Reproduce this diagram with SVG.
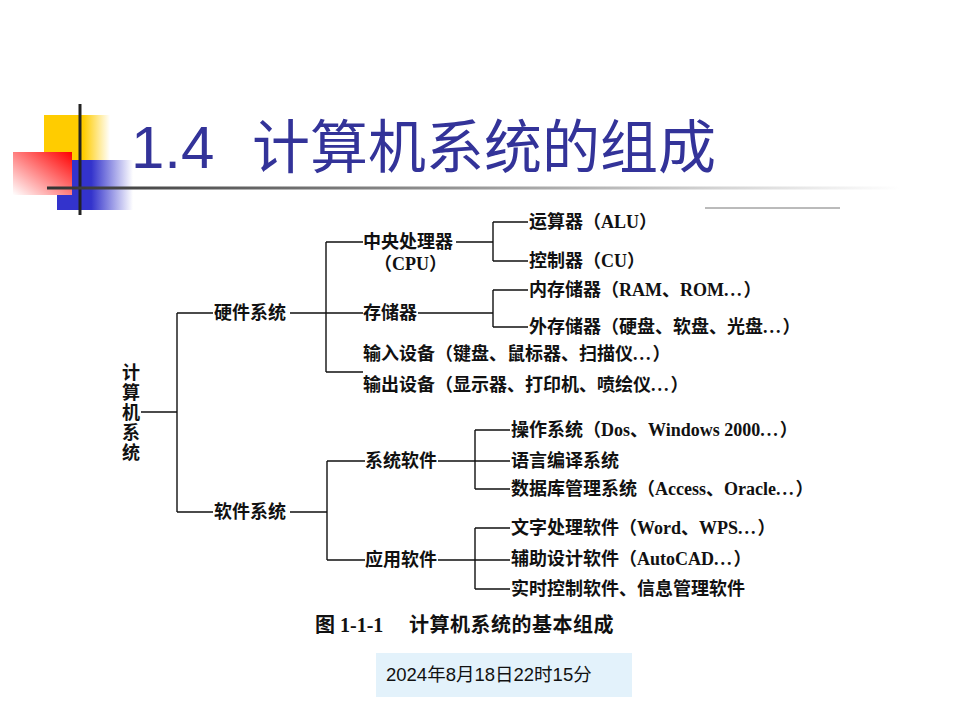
<svg xmlns="http://www.w3.org/2000/svg" width="960" height="720" viewBox="0 0 960 720">
<defs>
<linearGradient id="gY" x1="0" y1="0" x2="1" y2="0"><stop offset="0" stop-color="#FFCC00"/><stop offset="0.6" stop-color="#FFCC00"/><stop offset="1" stop-color="#FFFFFF"/></linearGradient>
<linearGradient id="gB" x1="0" y1="0" x2="1" y2="0"><stop offset="0" stop-color="#3333CC"/><stop offset="0.45" stop-color="#3333CC"/><stop offset="1" stop-color="#FFFFFF"/></linearGradient>
<linearGradient id="gR" x1="0" y1="1" x2="1" y2="0"><stop offset="0" stop-color="#FFFFFF"/><stop offset="1" stop-color="#FF0000"/></linearGradient>
<linearGradient id="gL" gradientUnits="userSpaceOnUse" x1="47" y1="0" x2="900" y2="0"><stop offset="0" stop-color="#333333"/><stop offset="0.5" stop-color="#999999"/><stop offset="1" stop-color="#FFFFFF"/></linearGradient>
</defs>
<style>
.t{font-family:"Liberation Serif","Noto Sans CJK SC",serif;font-size:18px;font-weight:bold;fill:#111}
.d{letter-spacing:2px}
.c{fill:none;stroke:#111;stroke-width:1.4}
.title{font-family:"Liberation Sans","Noto Sans CJK SC",sans-serif;font-size:60px;fill:#333399}
.cap{font-family:"Liberation Serif","Noto Sans CJK SC",serif;font-size:20px;font-weight:bold;fill:#111}
.date{font-family:"Liberation Sans","Noto Sans CJK SC",sans-serif;font-size:18.5px;fill:#111}
</style>
<rect width="960" height="720" fill="#FFFFFF"/>
<g id="decoration">
<rect x="44" y="115" width="66" height="45" fill="url(#gY)"/>
<rect x="57" y="160" width="76" height="50" fill="url(#gB)"/>
<rect x="13" y="152" width="59" height="43" fill="url(#gR)"/>
<line x1="80" y1="104" x2="80" y2="215" stroke="#222" stroke-width="3"/>
<line x1="47" y1="188" x2="900" y2="188" stroke="url(#gL)" stroke-width="3"/>
<line x1="705" y1="208" x2="840" y2="208" stroke="#777" stroke-width="1"/>
</g>
<g id="title">
<text class="title" x="131" y="168">1.4</text>
<text class="title" x="252" y="168" style="font-size:58px">计算机系统的组成</text>
</g>
<g id="connectors" class="c">
<path d="M141,412H177M177,313V512M177,313H213M177,512H213"/>
<path d="M290,313H363M326,242V372M326,242H363M326,372H363"/>
<path d="M456,242H493M493,222V261M493,222H528M493,261H528"/>
<path d="M418,313H493M493,290V327M493,290H528M493,327H528"/>
<path d="M290,512H327M327,461V560M327,461H365M327,560H365"/>
<path d="M438,461H510M475,430V489M475,430H510M475,489H510"/>
<path d="M438,560H510M475,528V589M475,528H510M475,589H510"/>
</g>
<g id="n-root" class="t">
<text x="122" y="379">计</text>
<text x="122" y="399">算</text>
<text x="122" y="419">机</text>
<text x="122" y="439">系</text>
<text x="122" y="459">统</text>
</g>
<g id="n-hw"><text class="t" x="214" y="319">硬件系统</text></g>
<g id="n-sw"><text class="t" x="214" y="518">软件系统</text></g>
<g id="n-cpu"><text class="t" x="363" y="248">中央处理器</text><text class="t" x="374" y="270">（CPU）</text></g>
<g id="n-mem"><text class="t" x="363" y="319">存储器</text></g>
<g id="n-in"><text class="t" x="363" y="360">输入设备（键盘、鼠标器、扫描仪<tspan class="d">...</tspan>）</text></g>
<g id="n-out"><text class="t" x="363" y="391">输出设备（显示器、打印机、喷绘仪<tspan class="d">...</tspan>）</text></g>
<g id="n-alu"><text class="t" x="529" y="228">运算器（ALU）</text></g>
<g id="n-cu"><text class="t" x="529" y="267">控制器（CU）</text></g>
<g id="n-ram"><text class="t" x="529" y="296">内存储器（RAM、ROM<tspan class="d">...</tspan>）</text></g>
<g id="n-ext"><text class="t" x="529" y="333">外存储器（硬盘、软盘、光盘<tspan class="d">...</tspan>）</text></g>
<g id="n-syssw"><text class="t" x="365" y="467">系统软件</text></g>
<g id="n-appsw"><text class="t" x="365" y="566">应用软件</text></g>
<g id="n-os"><text class="t" x="511" y="436">操作系统（Dos、Windows 2000<tspan class="d">...</tspan>）</text></g>
<g id="n-lang"><text class="t" x="511" y="467">语言编译系统</text></g>
<g id="n-db"><text class="t" x="511" y="495">数据库管理系统（Access、Oracle<tspan class="d">...</tspan>）</text></g>
<g id="n-word"><text class="t" x="511" y="534">文字处理软件（Word、WPS<tspan class="d">...</tspan>）</text></g>
<g id="n-cad"><text class="t" x="511" y="565">辅助设计软件（AutoCAD<tspan class="d">...</tspan>）</text></g>
<g id="n-rt"><text class="t" x="511" y="595">实时控制软件、信息管理软件</text></g>
<g id="caption">
<text class="cap" x="315" y="632">图 1-1-1</text>
<text class="cap" x="409" y="632" style="letter-spacing:0.5px">计算机系统的基本组成</text>
</g>
<g id="date">
<rect x="376" y="653" width="256" height="44" fill="#E3F2FB"/>
<text class="date" x="386" y="681">2024年8月18日22时15分</text>
</g>
</svg>
